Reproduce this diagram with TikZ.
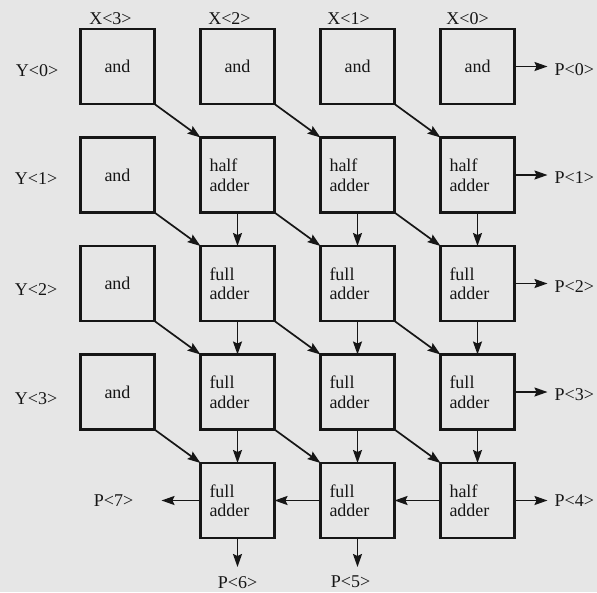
\documentclass[tikz,border=0pt]{standalone}
\usepackage{fontspec}
\setmainfont{Liberation Serif}
\usepackage{tikz}
\usetikzlibrary{arrows.meta,positioning}
\definecolor{cInk}{HTML}{161616}
\definecolor{cPaper}{HTML}{E6E6E6}
\tikzset{
  cell/.style    = {draw=cInk, line width=2.2pt, minimum width=74pt,
                    minimum height=75pt, inner sep=0pt, outer sep=0pt,
                    text=cInk, font=\fontsize{18}{19.5}\selectfont},
  andcell/.style = {cell},
  addcell/.style = {cell, align=left, text width=56pt},
  pin/.style     = {inner sep=0pt, text=cInk, font=\fontsize{18}{20}\selectfont},
  flow/.style    = {-{Stealth[length=13pt,width=9pt,inset=2pt]},
                    line width=1.7pt, draw=cInk},
}

\begin{document}
\begin{tikzpicture}[node distance=33.5pt and 46pt]
  \fill[cPaper] (0,0) rectangle (597pt,-592pt);
  \useasboundingbox (0,0) rectangle (597pt,-592pt);
  % row 0: partial products with Y<0>
  \node[andcell] (c00) at (117.5pt,-66.5pt) {and};
  \node[andcell, right=of c00] (c01) {and};
  \node[andcell, right=of c01] (c02) {and};
  \node[andcell, right=of c02] (c03) {and};
  % row 1
  \node[andcell, below=of c00] (c10) {and};
  \node[addcell, below=of c01] (c11) {half\\adder};
  \node[addcell, below=of c02] (c12) {half\\adder};
  \node[addcell, below=of c03] (c13) {half\\adder};
  % row 2
  \node[andcell, below=of c10] (c20) {and};
  \node[addcell, below=of c11] (c21) {full\\adder};
  \node[addcell, below=of c12] (c22) {full\\adder};
  \node[addcell, below=of c13] (c23) {full\\adder};
  % row 3
  \node[andcell, below=of c20] (c30) {and};
  \node[addcell, below=of c21] (c31) {full\\adder};
  \node[addcell, below=of c22] (c32) {full\\adder};
  \node[addcell, below=of c23] (c33) {full\\adder};
  % row 4: final carry chain
  \node[addcell, below=of c31] (c41) {full\\adder};
  \node[addcell, below=of c32] (c42) {full\\adder};
  \node[addcell, below=of c33] (c43) {half\\adder};

  % inputs
  \node[pin, above=4pt of c00, xshift=-7pt] (x3) {X<3>};
  \node[pin, above=4pt of c01, xshift=-8pt] (x2) {X<2>};
  \node[pin, above=4pt of c02, xshift=-9pt] (x1) {X<1>};
  \node[pin, above=4pt of c03, xshift=-10pt] (x0) {X<0>};
  \node[pin, left=22pt of c00, yshift=-4pt] (y0) {Y<0>};
  \node[pin, left=23pt of c10, yshift=-4pt] (y1) {Y<1>};
  \node[pin, left=23pt of c20, yshift=-6pt] (y2) {Y<2>};
  \node[pin, left=23pt of c30, yshift=-7pt] (y3) {Y<3>};

  % outputs
  \node[pin, right=40pt of c03, yshift=-3pt] (p0) {P<0>};
  \node[pin, right=40pt of c13, yshift=-3pt] (p1) {P<1>};
  \node[pin, right=40pt of c23, yshift=-3pt] (p2) {P<2>};
  \node[pin, right=40pt of c33, yshift=-3pt] (p3) {P<3>};
  \node[pin, right=40pt of c43] (p4) {P<4>};
  \node[pin, below=38pt of c42, xshift=-7pt] (p5) {P<5>};
  \node[pin, below=38pt of c41] (p6) {P<6>};
  \node[pin, left=67pt of c41] (p7) {P<7>};

  % diagonal sums
  \foreach \r/\s in {0/1,1/2,2/3,3/4}
    \foreach \c/\d in {0/1,1/2,2/3}
      \draw[flow] (c\r\c.south east) -- (c\s\d.north west);
  % vertical carries
  \foreach \r/\s in {1/2,2/3,3/4}
    \foreach \c in {1,2,3}
      \draw[flow] (c\r\c) -- (c\s\c);
  % carry ripple along the last row
  \draw[flow] (c43) -- (c42);
  \draw[flow] (c42) -- (c41);
  \draw[flow, shorten >=28pt] (c41.west) -- (c41.west -| p7.east);

  % product bits
  \foreach \r in {0,...,4}
    \draw[flow, shorten >=7pt] (c\r3.east) -- (c\r3.east -| p\r.west);
  \draw[flow, shorten >=9pt] (c41) -- (p6);
  \draw[flow, shorten >=9pt] (c42.south) -- (c42.south |- p5.north);
\end{tikzpicture}
\end{document}
